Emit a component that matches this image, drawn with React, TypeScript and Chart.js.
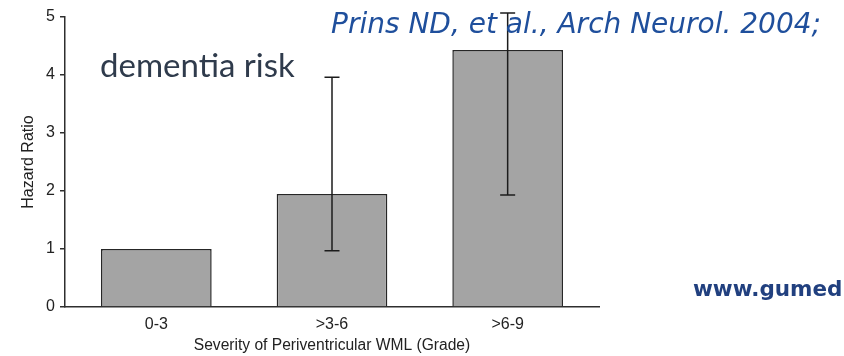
import React, { useEffect, useRef } from "react";
import { Chart, registerables } from "chart.js";

Chart.register(...registerables);

// Hazard ratios of dementia by periventricular white-matter-lesion grade
const categories = ["0-3", ">3-6", ">6-9"];
const hazardRatios = [1.0, 1.95, 4.43];
const ciLower: (number | null)[] = [null, 0.97, 1.93];
const ciUpper: (number | null)[] = [null, 3.96, 5.07];
const yTickValues = [0, 1, 2, 3, 4, 5];

const headline = "dementia risk";
const citation = "Prins ND, et al., Arch Neurol. 2004;";
const website = "www.gumed.edu.pl";
const yTitle = "Hazard Ratio";
const xTitle = "Severity of Periventricular WML (Grade)";

const AXIS_FONT = "'Liberation Sans', Arial, sans-serif";
const AXIS_COLOR = "#2e2e2e";

const errorBarPlugin = {
  id: "errorBars",
  afterDatasetsDraw(chart: any) {
    const { ctx } = chart;
    const yScale = chart.scales.y;
    const meta = chart.getDatasetMeta(0);
    ctx.save();
    ctx.strokeStyle = "#1c1c1c";
    ctx.lineWidth = 1.5;
    meta.data.forEach((bar: any, i: number) => {
      const lo = ciLower[i];
      const hi = ciUpper[i];
      if (lo == null || hi == null) return;
      const x = bar.x;
      const yTop = yScale.getPixelForValue(hi);
      const yBot = yScale.getPixelForValue(lo);
      const cap = 7.5;
      ctx.beginPath();
      ctx.moveTo(x, yTop);
      ctx.lineTo(x, yBot);
      ctx.moveTo(x - cap, yTop);
      ctx.lineTo(x + cap, yTop);
      ctx.moveTo(x - cap, yBot);
      ctx.lineTo(x + cap, yBot);
      ctx.stroke();
    });
    ctx.restore();
  },
};

const captionPlugin = {
  id: "captions",
  afterDraw(chart: any) {
    const { ctx } = chart;
    ctx.save();
    ctx.textBaseline = "alphabetic";
    ctx.textAlign = "left";

    ctx.fillStyle = "#2f3b4c";
    ctx.font = "33px Lato, 'Open Sans', sans-serif";
    ctx.fillText(headline, 100, 77);

    ctx.fillStyle = "#1f4f9c";
    ctx.font = "italic 28px 'DejaVu Sans', 'Open Sans', sans-serif";
    ctx.fillText(citation, 331, 33);

    ctx.fillStyle = "#21407f";
    ctx.font = "bold 21.5px 'DejaVu Sans', Verdana, sans-serif";
    ctx.fillText(website, 693, 296);
    ctx.restore();
  },
};

export default function App() {
  const canvasRef = useRef<HTMLCanvasElement | null>(null);

  useEffect(() => {
    const canvas = canvasRef.current;
    if (!canvas) return;

    const chart = new Chart(canvas, {
      type: "bar",
      data: {
        datasets: [
          {
            data: categories.map((_, i) => ({ x: i, y: hazardRatios[i] })),
            backgroundColor: "#a4a4a4",
            borderColor: "#262626",
            borderWidth: 1.5,
            barPercentage: 0.63,
            categoryPercentage: 1,
          },
        ],
      },
      options: {
        responsive: false,
        animation: false,
        events: [],
        layout: { padding: { left: 10, top: 17, right: 245, bottom: 0 } },
        plugins: {
          legend: { display: false },
          tooltip: { enabled: false },
        },
        scales: {
          x: {
            type: "linear",
            offset: false,
            min: -0.52,
            max: 2.52,
            afterBuildTicks(scale: any) {
              scale.ticks = categories.map((_, i) => ({ value: i }));
            },
            afterFit(scale: any) {
              scale.height = 49;
            },
            grid: { display: false, offset: false },
            border: { display: true, color: AXIS_COLOR, width: 1.5 },
            ticks: {
              color: "#222",
              padding: 0,
              font: { family: AXIS_FONT, size: 16 },
              callback: (value: any) => categories[Math.round(value)] ?? "",
            },
            title: {
              display: true,
              text: xTitle,
              color: "#222",
              font: { family: AXIS_FONT, size: 15.6 },
              padding: { top: 0, bottom: 1 },
            },
          },
          y: {
            min: 0,
            max: 5,
            afterBuildTicks(scale: any) {
              scale.ticks = yTickValues.map((v) => ({ value: v }));
            },
            afterFit(scale: any) {
              scale.width = 55;
            },
            grid: {
              display: true,
              drawOnChartArea: false,
              drawTicks: true,
              tickLength: 5,
              color: AXIS_COLOR,
              lineWidth: 1.5,
            },
            border: { display: true, color: AXIS_COLOR, width: 1.5 },
            ticks: {
              color: "#222",
              padding: 5,
              font: { family: AXIS_FONT, size: 16 },
            },
            title: {
              display: true,
              text: yTitle,
              color: "#222",
              font: { family: AXIS_FONT, size: 16 },
              padding: { top: 9, bottom: 0 },
            },
          },
        },
      },
      plugins: [errorBarPlugin, captionPlugin],
    } as any);

    return () => chart.destroy();
  }, []);

  return (
    <div style={{ position: "absolute", left: 0, top: 0, width: 844, height: 356, background: "#fff" }}>
      <canvas ref={canvasRef} width={844} height={356} style={{ display: "block" }} />
    </div>
  );
}
